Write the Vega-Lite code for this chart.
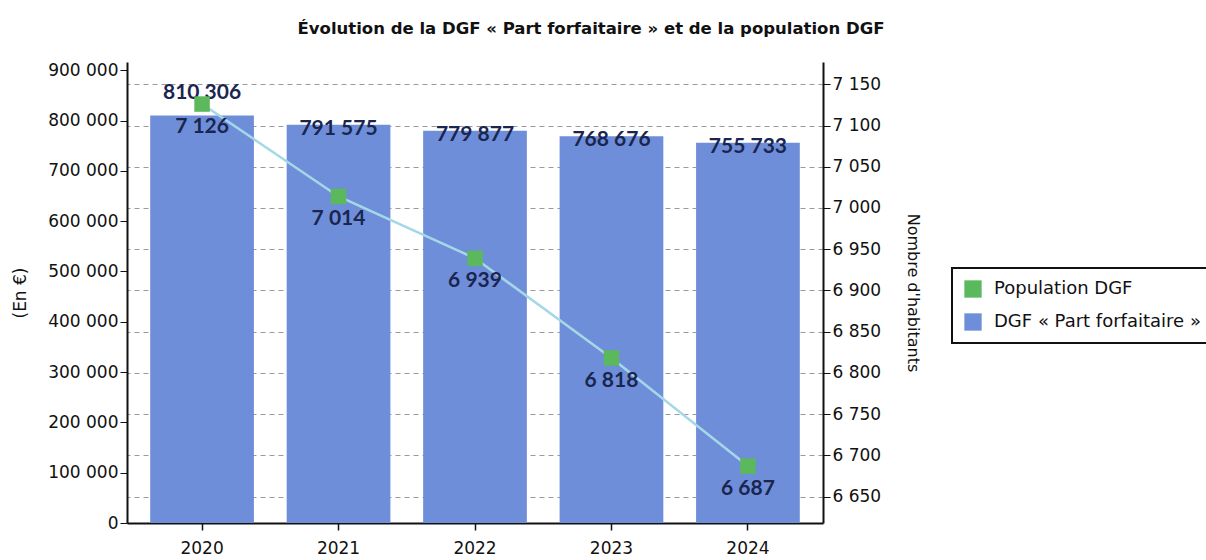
{
  "$schema": "https://vega.github.io/schema/vega-lite/v6.json",
  "autosize": {"type": "none"},
  "width": 696,
  "height": 461,
  "padding": {"left": 127, "top": 62, "right": 383, "bottom": 37},
  "background": "white",
  "title": {
    "text": "Évolution de la DGF « Part forfaitaire » et de la population DGF",
    "anchor": "middle",
    "frame": "group",
    "dx": 116,
    "offset": 24,
    "font": "DejaVu Sans",
    "fontSize": 16.5,
    "fontWeight": "bold",
    "color": "#111111"
  },
  "data": {
    "values": [
      {"annee": "2020", "dgf": 810306, "pop": 7126},
      {"annee": "2021", "dgf": 791575, "pop": 7014},
      {"annee": "2022", "dgf": 779877, "pop": 6939},
      {"annee": "2023", "dgf": 768676, "pop": 6818},
      {"annee": "2024", "dgf": 755733, "pop": 6687}
    ]
  },
  "encoding": {
    "x": {
      "field": "annee",
      "type": "ordinal",
      "scale": {"paddingInner": 0.24, "paddingOuter": 0.17},
      "axis": {
        "title": null,
        "labelAngle": 0,
        "labelPadding": 10,
        "tickSize": 7,
        "domainWidth": 2,
        "tickWidth": 1.5
      }
    }
  },
  "layer": [
    {
      "encoding": {
        "y": {
          "field": "dgf",
          "type": "quantitative",
          "scale": {"domain": [0, 916500], "nice": false, "zero": true},
          "axis": {
            "orient": "left",
            "title": "(En €)",
            "titlePadding": 18,
            "values": [0, 100000, 200000, 300000, 400000, 500000, 600000, 700000, 800000, 900000],
            "format": ",d",
            "grid": false,
            "tickSize": 7,
            "domainWidth": 2
          }
        }
      },
      "layer": [
        {
          "mark": {"type": "bar"},
          "encoding": {
            "color": {
              "datum": "DGF « Part forfaitaire »",
              "scale": {
                "domain": ["Population DGF", "DGF « Part forfaitaire »"],
                "range": ["#5cb85c", "#6f8ed9"]
              },
              "legend": {
                "title": null,
                "orient": "none",
                "legendX": 825,
                "legendY": 206,
                "strokeColor": "#111111",
                "fillColor": "white",
                "padding": 12,
                "symbolType": "square",
                "symbolSize": 300,
                "symbolStrokeWidth": 0,
                "labelFontSize": 18,
                "labelFont": "DejaVu Sans",
                "labelColor": "#111111",
                "labelLimit": 0,
                "rowPadding": 15,
                "labelOffset": 12
              }
            }
          }
        },
        {
          "transform": [{"filter": "datum.annee != '2020'"}],
          "mark": {"type": "text", "baseline": "middle", "dy": 4, "font": "Lato", "fontWeight": "bold", "fontSize": 21, "color": "#1a2550"},
          "encoding": {"text": {"field": "dgf", "type": "quantitative", "format": ",d"}}
        },
        {
          "transform": [{"filter": "datum.annee == '2020'"}],
          "mark": {"type": "text", "baseline": "middle", "dy": -22, "font": "Lato", "fontWeight": "bold", "fontSize": 21, "color": "#1a2550"},
          "encoding": {"text": {"field": "dgf", "type": "quantitative", "format": ",d"}}
        }
      ]
    },
    {
      "encoding": {
        "y": {
          "field": "pop",
          "type": "quantitative",
          "scale": {"domain": [6618, 7177], "nice": false, "zero": false},
          "axis": {
            "orient": "right",
            "title": "Nombre d'habitants",
            "titleFontSize": 16,
            "titlePadding": 24,
            "values": [6650, 6700, 6750, 6800, 6850, 6900, 6950, 7000, 7050, 7100, 7150],
            "format": ",d",
            "grid": true,
            "gridDash": [5, 4],
            "gridColor": "#9a9a9a",
            "gridWidth": 1,
            "tickSize": 7,
            "domainWidth": 2
          }
        }
      },
      "layer": [
        {
          "mark": {"type": "line", "color": "#a5d8e6", "strokeWidth": 2.5},
          "encoding": {}
        },
        {
          "mark": {"type": "point", "shape": "square", "filled": true, "size": 240, "opacity": 1},
          "encoding": {"color": {"datum": "Population DGF"}}
        },
        {
          "mark": {"type": "text", "baseline": "middle", "dy": 23, "font": "Lato", "fontWeight": "bold", "fontSize": 21, "color": "#1a2550"},
          "encoding": {"text": {"field": "pop", "type": "quantitative", "format": ",d"}}
        }
      ]
    }
  ],
  "resolve": {"scale": {"y": "independent"}},
  "config": {
    "locale": {
      "number": {"decimal": ",", "thousands": " ", "grouping": [3], "currency": ["", " €"]}
    },
    "view": {"stroke": null},
    "legend": {"strokeWidth": 2},
    "axis": {
      "domainColor": "#111111",
      "tickColor": "#111111",
      "labelColor": "#111111",
      "titleColor": "#111111",
      "labelFont": "DejaVu Sans",
      "titleFont": "DejaVu Sans",
      "labelFontSize": 17,
      "titleFontSize": 17,
      "titleFontWeight": "normal"
    }
  }
}
